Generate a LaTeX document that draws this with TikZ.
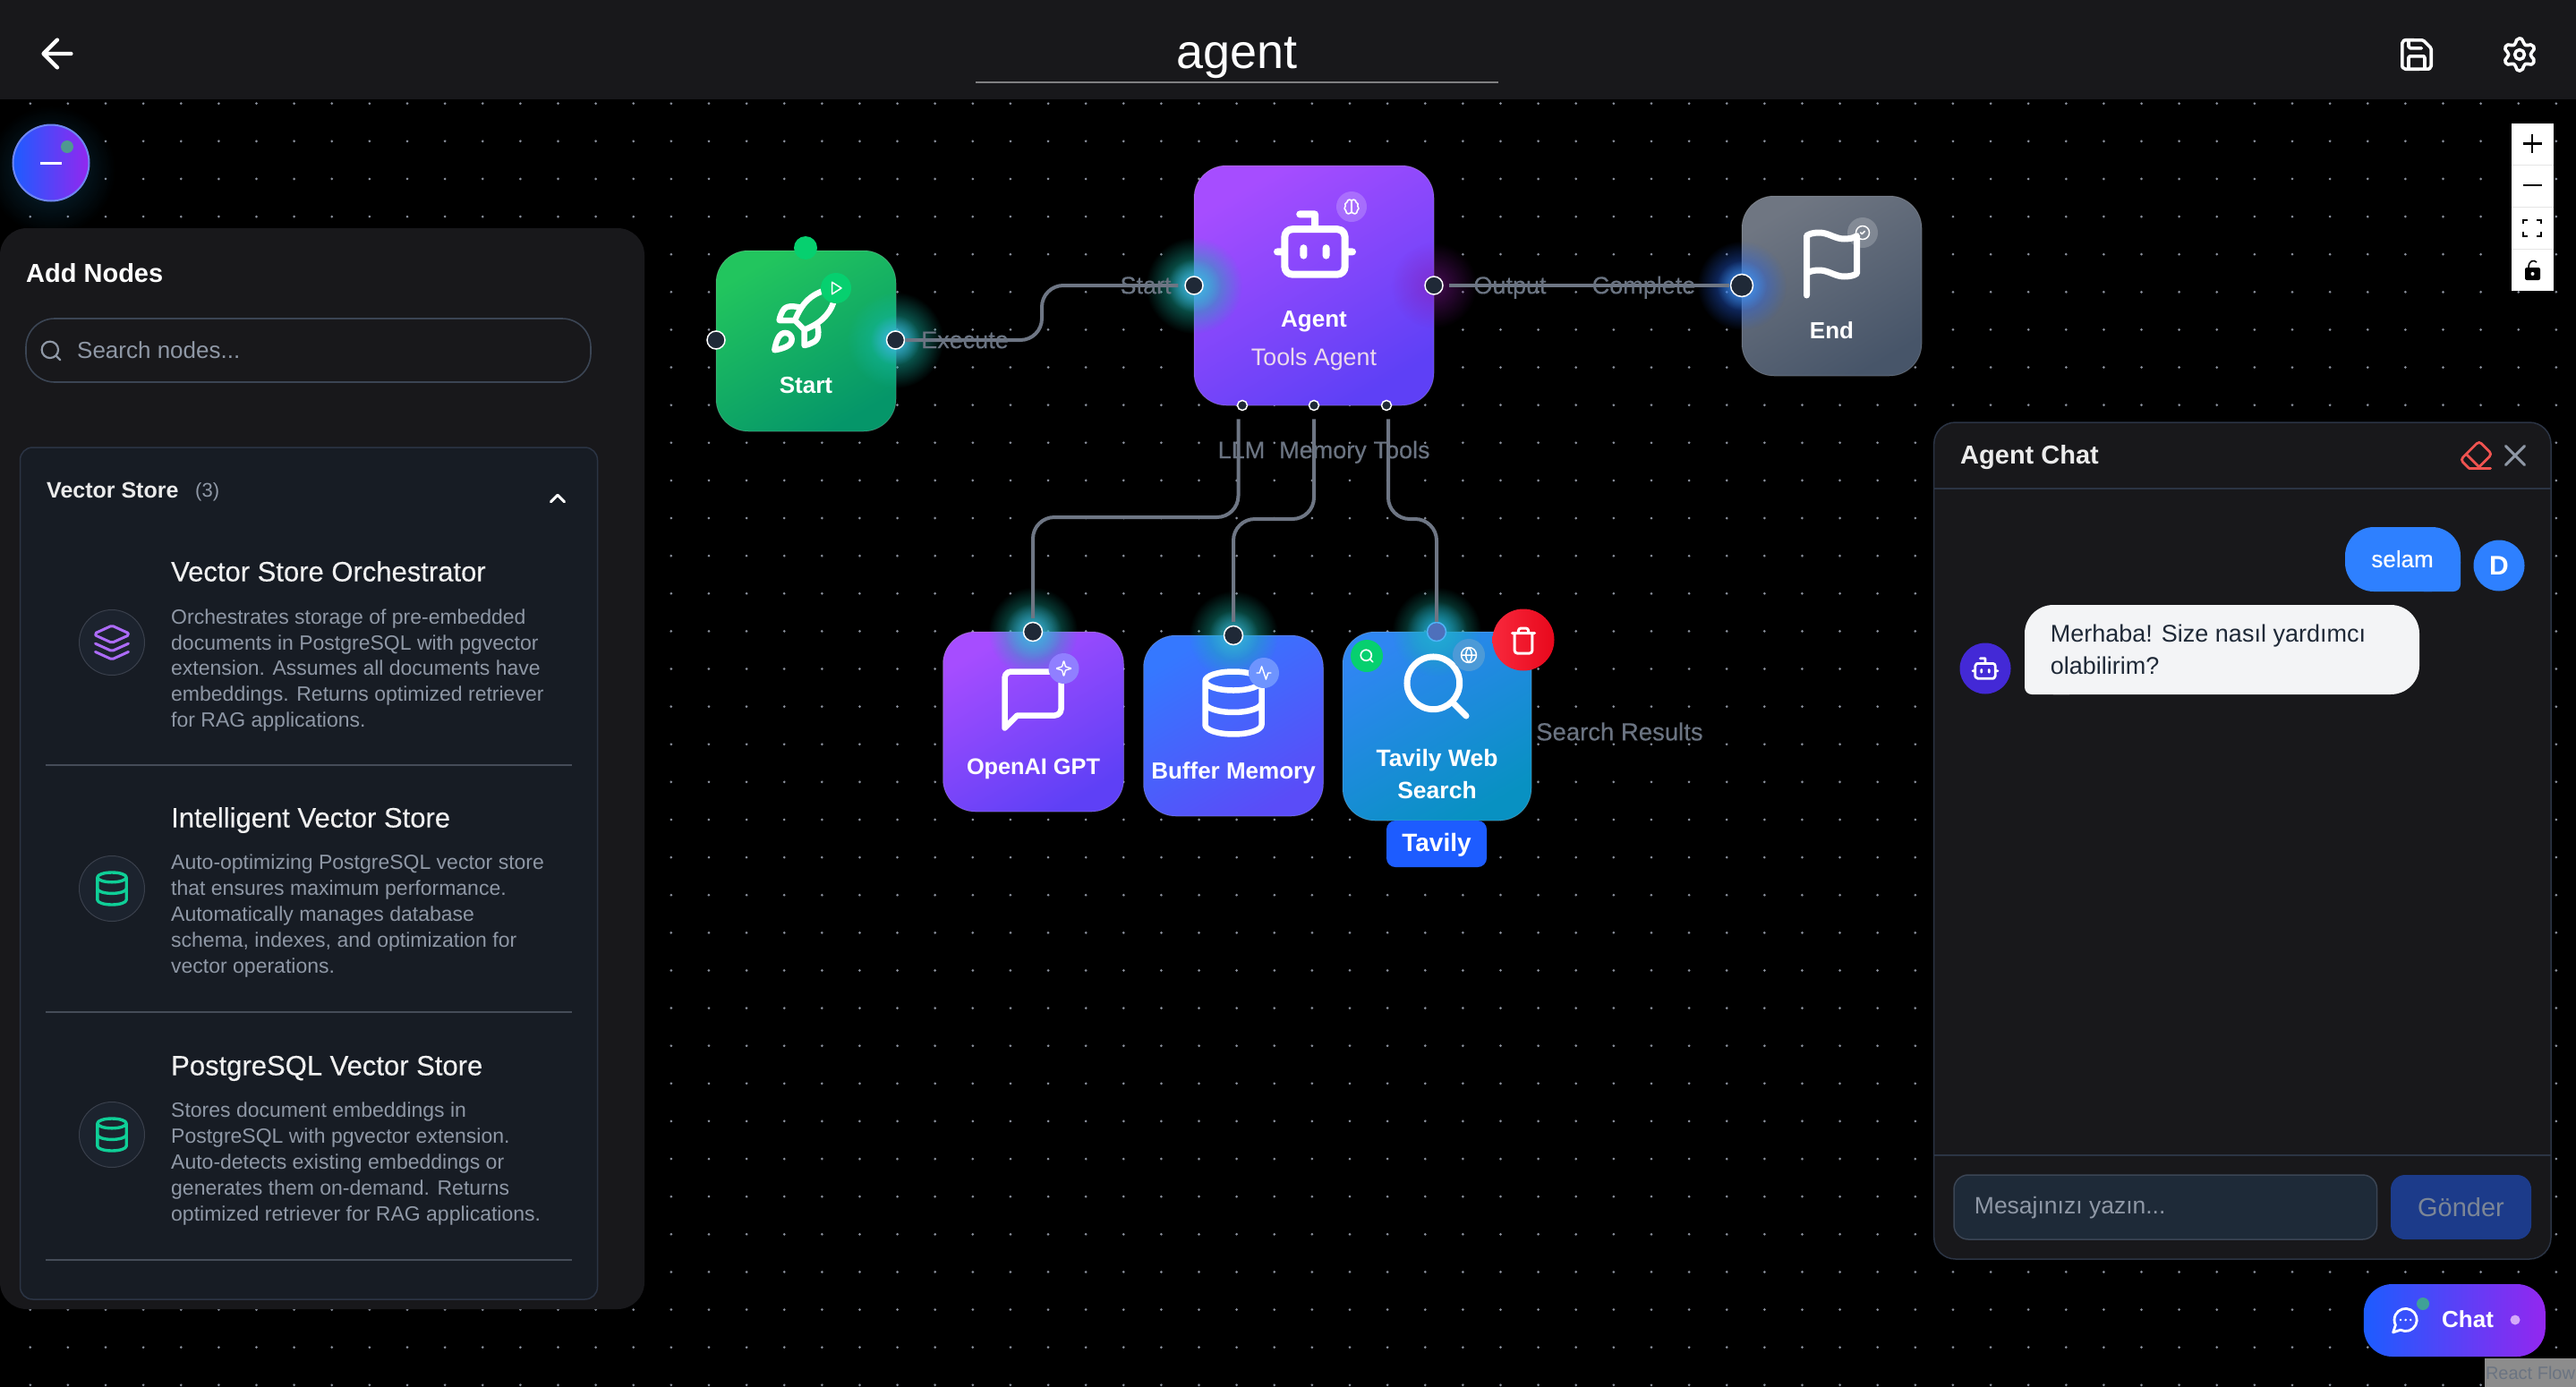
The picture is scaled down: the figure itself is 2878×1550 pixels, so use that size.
\documentclass[tikz,border=0pt]{standalone}
\usepackage{fontspec}
\setmainfont{Liberation Sans}
\newfontfamily\medfont[FakeBold=0.3]{Liberation Sans}
\usetikzlibrary{svg.path,fadings,shapes.misc}
\newcommand\fsz[1]{\fontsize{#1}{#1}\selectfont}
\tikzfading[name=glowf, inner color=transparent!0, outer color=transparent!100]
\definecolor{bar}{HTML}{18181B}
\definecolor{dotc}{HTML}{8A909C}
\definecolor{edgec}{HTML}{6E7684}
\definecolor{labc}{HTML}{6B7482}
\definecolor{handc}{HTML}{1F2937}
\definecolor{muted}{HTML}{8F98A6}
\definecolor{cardc}{HTML}{171C24}
\definecolor{cardb}{HTML}{2B3444}
\definecolor{itemsep}{HTML}{454C58}
\definecolor{wellf}{HTML}{1C232E}
\definecolor{welld}{HTML}{3A404C}
\definecolor{userb}{HTML}{2E80FF}
\definecolor{purpA}{HTML}{A64DFF}
\definecolor{purpB}{HTML}{5E40F6}
\definecolor{grnA}{HTML}{22C55E}
\definecolor{grnB}{HTML}{059669}
\definecolor{greyA}{HTML}{6F7682}
\definecolor{greyB}{HTML}{475569}
\definecolor{bluA}{HTML}{3578FF}
\definecolor{bluB}{HTML}{5A4CF8}
\definecolor{tavA}{HTML}{2F86F2}
\definecolor{tavB}{HTML}{0891C2}
\definecolor{gradL}{HTML}{1D5CFF}
\definecolor{gradR}{HTML}{9327EF}
\definecolor{mint}{HTML}{06D06F}
\definecolor{glowT}{HTML}{14B8A6}
\definecolor{glowC}{HTML}{4FB4F8}
\definecolor{glowB}{HTML}{2563EB}
\definecolor{bubble}{HTML}{F3F4F6}
\definecolor{inpf}{HTML}{1E2A38}
\definecolor{inpd}{HTML}{3B4554}
\definecolor{sendf}{HTML}{1C3B8A}
\definecolor{sendt}{HTML}{7C8696}
\definecolor{botav}{HTML}{4329D6}
\definecolor{redA}{HTML}{F8283C}
\definecolor{redB}{HTML}{E8081C}
\definecolor{tbadgec}{HTML}{1D5CFF}
\definecolor{erasec}{HTML}{EF5350}
\definecolor{layerc}{HTML}{AD6BFA}
\definecolor{dbc}{HTML}{0FCF97}
\tikzset{
  x=1pt,y=-1pt,
  txt/.style={font=\fsz{#1},inner sep=0pt,text height=0.85*#1 pt,text depth=0.17*#1 pt},
  bt/.style={txt={#1},font=\fsz{#1}\bfseries},
  mt/.style={txt={#1},font=\fsz{#1}\medfont},
  nodelab/.style={bt=26,text=white},
  edgelab/.style={mt=27,text=labc},
  edge/.style={draw=edgec,line width=4pt,rounded corners=24pt},
  flowbox/.style={rectangle,rounded corners=36pt,inner sep=0pt,draw=white,draw opacity=.18,line width=1pt},
  hand/.style={circle,inner sep=0pt,minimum size=#1 pt,fill=handc,draw=white,line width=1.5pt},
  badge/.style={circle,inner sep=0pt,minimum size=#1 pt},
  icon/.style={line cap=round,line join=round,fill=none},
  sep/.style={draw=#1,line width=1.5pt},
  descr/.style={inner sep=0pt,anchor=north west,align=left,text=muted,font=\fontsize{23}{28.8}\selectfont},
  itemtitle/.style={mt=31,anchor=west,text=white!94!black},
  iconwell/.style={circle,inner sep=0pt,minimum size=73pt,fill=wellf,draw=welld,line width=1pt},
}
\newcommand\lucide[6]{\begin{scope}[shift={(#1,#2)},xscale=#3,yscale=-#3,shift={(-12pt,-12pt)}]\draw[icon,line width=#4 pt,draw=#5] #6;\end{scope}}
\newcommand\glow[5]{\fill[#4,opacity=#5,path fading=glowf] (#1,#2) circle[radius=#3];}
\def\icbot{svg {M 12 8 V 4 H 8} svg {M 6 8 H 18 A 2 2 0 0 1 20 10 V 18 A 2 2 0 0 1 18 20 H 6 A 2 2 0 0 1 4 18 V 10 A 2 2 0 0 1 6 8 Z} svg {M 2 14 H 4} svg {M 20 14 H 22} svg {M 15 13 V 15} svg {M 9 13 V 15}}
\def\icdb{(12pt,5pt) ellipse[x radius=9pt,y radius=3pt] svg {M 3 5 V 19 A 9 3 0 0 0 21 19 V 5} svg {M 3 12 A 9 3 0 0 0 21 12}}
\def\icsearch{(11pt,11pt) circle[radius=8pt] svg {M 21 21 L 16.7 16.7}}
\begin{document}
\begin{tikzpicture}
\useasboundingbox (0,0) rectangle (2878,1550);
\fill[black] (0,0) rectangle (2878,1550);
% dot grid
\fill[dotc] \foreach \i in {0,...,67} {\foreach \j in {0,...,34} {({33.8+42.12*\i},{115.7+42.12*\j}) circle[radius=1.5]}};
% top bar
\fill[bar] (0,0) rectangle (2878,111);
\node[txt=54,text=white] (title) at (1382,58) {agent};
\draw[draw=white!45!bar,line width=2pt] (1090,92) -- (1674,92);
\lucide{64}{60}{2.2}{4.4}{white}{svg {M 12 19 L 5 12 L 12 5} svg {M 19 12 H 5}}
\lucide{2700}{61}{1.8}{3.6}{white}{svg {M 15.2 3 A 2 2 0 0 1 16.6 3.6 L 20.4 7.4 A 2 2 0 0 1 21 8.8 V 19 A 2 2 0 0 1 19 21 H 5 A 2 2 0 0 1 3 19 V 5 A 2 2 0 0 1 5 3 Z} svg {M 17 21 V 14 A 1 1 0 0 0 16 13 H 8 A 1 1 0 0 0 7 14 V 21} svg {M 7 3 V 7 A 1 1 0 0 0 8 8 H 15}}
\lucide{2815}{61}{1.8}{3.6}{white}{svg {M 12.22 2 h -0.44 a 2 2 0 0 0 -2 2 v 0.18 a 2 2 0 0 1 -1 1.73 l -0.43 0.25 a 2 2 0 0 1 -2 0 l -0.15 -0.08 a 2 2 0 0 0 -2.73 0.73 l -0.22 0.38 a 2 2 0 0 0 0.73 2.73 l 0.15 0.1 a 2 2 0 0 1 1 1.72 v 0.51 a 2 2 0 0 1 -1 1.74 l -0.15 0.09 a 2 2 0 0 0 -0.73 2.73 l 0.22 0.38 a 2 2 0 0 0 2.73 0.73 l 0.15 -0.08 a 2 2 0 0 1 2 0 l 0.43 0.25 a 2 2 0 0 1 1 1.73 V 20 a 2 2 0 0 0 2 2 h 0.44 a 2 2 0 0 0 2 -2 v -0.18 a 2 2 0 0 1 1 -1.73 l 0.43 -0.25 a 2 2 0 0 1 2 0 l 0.15 0.08 a 2 2 0 0 0 2.73 -0.73 l 0.22 -0.39 a 2 2 0 0 0 -0.73 -2.73 l -0.15 -0.08 a 2 2 0 0 1 -1 -1.74 v -0.5 a 2 2 0 0 1 1 -1.74 l 0.15 -0.09 a 2 2 0 0 0 0.73 -2.73 l -0.22 -0.38 a 2 2 0 0 0 -2.73 -0.73 l -0.15 0.08 a 2 2 0 0 1 -2 0 l -0.43 -0.25 a 2 2 0 0 1 -1 -1.73 V 4 a 2 2 0 0 0 -2 -2 z} (12pt,12pt) circle[radius=3pt]}
% zoom controls
\fill[white] (2806,138) rectangle (2853,325);
\foreach \yy in {184,231,278} {\draw[draw=black!10,line width=1pt] (2806,\yy) -- (2853,\yy);}
\draw[line width=2.6pt] (2818.5,160.5) -- (2839.5,160.5) (2829,150) -- (2829,171);
\draw[line width=2.6pt] (2818.5,207) -- (2839.5,207);
\draw[line width=2pt] (2819,250) |- (2824,245.5) (2834,245.5) -| (2839,250) (2839,259) |- (2834,264) (2824,264) -| (2819,259);
\fill[black,rounded corners=2pt] (2821,299) rectangle (2838,313);
\fill[white] (2829.5,306) circle[radius=2];
\draw[line width=1.6pt] (2825,299) .. controls (2825,291) and (2831,290) .. (2834,293);
% toggle
\glow{57}{190}{72}{glowT!50!glowB}{.3}
\node[circle,inner sep=0pt,minimum size=85pt,left color=gradL,right color=gradR,draw=gradL!65!white!90!violet,line width=2pt] (toggle) at (57,182) {};
\fill[glowT!45!gray] (75,164) circle[radius=7];
\draw[white,line width=3pt] (45,182) -- (69,182);
% left panel
\fill[bar,rounded corners=30pt] (0,255) rectangle (720,1463);
\node[bt=29,text=white,anchor=west] (addn) at (29,306) {Add Nodes};
\node[rectangle,rounded corners=32pt,minimum width=631pt,minimum height=71pt,inner sep=0pt,draw=inpd,line width=1.6pt] (sbox) at (344.5,391.5) {};
\lucide{57}{392}{1.15}{2.2}{muted}{\icsearch}
\node[txt=26,text=muted,anchor=west] (stext) at (86,392) {Search nodes...};
\node[rectangle,rounded corners=14pt,minimum width=645pt,minimum height=952pt,inner sep=0pt,fill=cardc,draw=cardb,line width=1.5pt] (card) at (345,976) {};
\node[bt=25,text=white!92!black,anchor=west] (vs) at (52,548) {Vector Store};
\node[txt=22,text=muted,anchor=west] (vsn) at (218,548) {(3)};
\lucide{623}{557}{1.25}{3}{white}{svg {M 18 15 L 12 9 L 6 15}}
% item 1
\node[iconwell] (w1) at (125,718) {};
\lucide{125}{718}{1.85}{3}{layerc}{svg {M 12.83 2.18 a 2 2 0 0 0 -1.66 0 L 2.6 6.08 a 1 1 0 0 0 0 1.83 l 8.58 3.91 a 2 2 0 0 0 1.66 0 l 8.58 -3.9 a 1 1 0 0 0 0 -1.83 Z} svg {M 22 17.65 l -9.17 4.16 a 2 2 0 0 1 -1.66 0 L 2 17.65} svg {M 22 12.65 l -9.17 4.16 a 2 2 0 0 1 -1.66 0 L 2 12.65}}
\node[itemtitle] (t1) at (191,639) {Vector Store Orchestrator};
\node[descr] (d1) at (191,680.5) {Orchestrates storage of pre-embedded\\documents in PostgreSQL with pgvector\\extension. Assumes all documents have\\embeddings. Returns optimized retriever\\for RAG applications.};
\draw[sep=itemsep] (51,855) -- (639,855);
% item 2
\node[iconwell] (w2) at (125,993) {};
\lucide{125}{993}{1.8}{3.4}{dbc}{\icdb}
\node[itemtitle] (t2) at (191,914) {Intelligent Vector Store};
\node[descr] (d2) at (191,955) {Auto-optimizing PostgreSQL vector store\\that ensures maximum performance.\\Automatically manages database\\schema, indexes, and optimization for\\vector operations.};
\draw[sep=itemsep] (51,1131) -- (639,1131);
% item 3
\node[iconwell] (w3) at (125,1268) {};
\lucide{125}{1268}{1.8}{3.4}{dbc}{\icdb}
\node[itemtitle] (t3) at (191,1191) {PostgreSQL Vector Store};
\node[descr] (d3) at (191,1232) {Stores document embeddings in\\PostgreSQL with pgvector extension.\\Auto-detects existing embeddings or\\generates them on-demand. Returns\\optimized retriever for RAG applications.};
\draw[sep=itemsep] (51,1408) -- (639,1408);
% flow nodes
\node[flowbox,minimum width=201pt,minimum height=202pt,top color=grnA,bottom color=grnB,shading angle=30] (start) at (900.5,381) {};
\fill[mint] (900,277) circle[radius=13];
\node[flowbox,minimum width=268pt,minimum height=268pt,top color=purpA,bottom color=purpB,shading angle=30] (agent) at (1468,319) {};
\node[flowbox,minimum width=201pt,minimum height=201pt,top color=greyA,bottom color=greyB,shading angle=30] (endn) at (2046.5,319.5) {};
\node[flowbox,minimum width=202pt,minimum height=201pt,top color=purpA,bottom color=purpB,shading angle=30] (openai) at (1154.5,806.5) {};
\node[flowbox,minimum width=201pt,minimum height=202pt,top color=bluA,bottom color=bluB,shading angle=30] (buffer) at (1378,811) {};
\node[flowbox,minimum width=211pt,minimum height=211pt,top color=tavA,bottom color=tavB,shading angle=30] (tavily) at (1605.5,811.5) {};
% glows
\glow{1000}{380}{54}{glowT}{.9}
\glow{1000}{380}{28}{glowC}{.75}
\glow{1334}{319}{54}{glowT}{.9}
\glow{1334}{319}{30}{glowC}{.85}
\glow{1602}{319}{48}{violet!70!purpA}{.5}
\glow{1946}{319}{50}{glowB}{.85}
\glow{1946}{319}{28}{glowC}{.7}
\glow{1154}{706}{50}{glowT}{.85}
\glow{1154}{706}{32}{glowC}{.75}
\glow{1378}{710}{50}{glowT}{.8}
\glow{1378}{710}{28}{glowC}{.6}
\glow{1605}{706}{50}{glowT}{.8}
\glow{1605}{706}{34}{cyan!60!glowC}{.8}
% handles
\node[hand=20] (hsl) at (800,380) {};
\node[hand=20] (hsr) at (1000.5,380) {};
\node[hand=20] (hai) at (1334,319) {};
\node[hand=20] (hao) at (1602,319) {};
\node[hand=11] (hl) at (1388,453) {};
\node[hand=11] (hm) at (1468,453) {};
\node[hand=11] (ht) at (1549,453) {};
\node[hand=25] (he) at (1946,319) {};
\node[hand=21] (ho) at (1154,706) {};
\node[hand=21] (hb) at (1378,710) {};
\node[hand=21,fill=glowB!55!gray,draw=glowC] (hv) at (1605,706) {};
% edges
\draw[edge] (hsr.east) -- (1164,380) -- (1164,319) -- ([xshift=-7pt]hai.west);
\draw[edge] ([xshift=6pt]hao.east) -- ([xshift=-1pt]he.west);
\draw[edge] ([xshift=-4.5pt,yshift=-9pt]hl.south) -- (1383.5,578) -- (1154,578) -- ([yshift=4pt]ho.north);
\draw[edge] ([yshift=-9pt]hm.south) -- (1468,580) -- (1378,580) -- ([yshift=4pt]hb.north);
\draw[edge] ([xshift=2pt,yshift=-9pt]ht.south) -- (1551,580) -- (1605,580) -- (hv.north);
% edge labels
\node[edgelab] (lexe) at (1078,380) {Execute};
\node[edgelab] (lsta) at (1280,319) {Start};
\node[edgelab] (lout) at (1687,319) {Output};
\node[edgelab] (lcom) at (1836.5,319) {Complete};
\node[edgelab] (lllm) at (1387,503) {LLM};
\node[edgelab] (lmem) at (1478,503) {Memory};
\node[edgelab] (ltoo) at (1566,503) {Tools};
\node[edgelab,mt=27.5,anchor=west] (lsr) at (1716,818) {Search Results};
% node icons
\lucide{898.6}{358}{3.5}{6.5}{white}{svg {M 4.5 16.5 c -1.5 1.26 -2 5 -2 5 s 3.74 -0.5 5 -2 c 0.71 -0.84 0.7 -2.13 -0.09 -2.91 a 2.18 2.18 0 0 0 -2.91 -0.09 z} svg {M 12 15 L 9 12 a 22 22 0 0 1 2 -3.95 A 12.88 12.88 0 0 1 22 2 c 0 2.72 -0.78 7.5 -6 11 a 22.35 22.35 0 0 1 -4 2 z} svg {M 9 12 H 4 s 0.55 -3.03 2 -4 c 1.62 -1.08 5 0 5 0} svg {M 12 15 v 5 s 3.03 -0.55 4 -2 c 1.08 -1.62 0 -5 0 -5}}
\node[badge=34,fill=mint] (bs) at (934,322) {};
\lucide{934}{322}{0.75}{1.5}{white}{svg {M 6 3 L 20 12 L 6 21 Z}}
\node[nodelab] (lstart) at (900.5,431) {Start};
\lucide{1469}{273}{4.2}{8}{white}{\icbot}
\node[badge=34,fill=white,fill opacity=.2] (ba) at (1510,231) {};
\lucide{1510}{231}{0.8}{1.6}{white}{svg {M 12 5 a 3 3 0 1 0 -5.997 0.125 a 4 4 0 0 0 -2.526 5.77 a 4 4 0 0 0 0.556 6.588 A 4 4 0 1 0 12 18 Z} svg {M 12 5 a 3 3 0 1 1 5.997 0.125 a 4 4 0 0 1 2.526 5.77 a 4 4 0 0 1 -0.556 6.588 A 4 4 0 1 1 12 18 Z} svg {M 12 5 V 18}}
\node[nodelab] (lagent) at (1468,357) {Agent};
\node[txt=26.8,text=white!85!violet] (lagent2) at (1468,399) {Tools Agent};
\lucide{2046.5}{295}{3.5}{7}{white}{svg {M 4 15 s 1 -1 4 -1 5 2 8 2 4 -1 4 -1 V 3 s -1 1 -4 1 -5 -2 -8 -2 -4 1 -4 1 z} svg {M 4 22 V 15}}
\node[badge=34,fill=white,fill opacity=.2] (be) at (2081,260) {};
\lucide{2081}{260}{0.75}{1.5}{white}{(12pt,12pt) circle[radius=10pt] svg {M 9 12 L 11 14 L 15 10}}
\node[nodelab] (lend) at (2046.5,370) {End};
\lucide{1154}{782}{3.5}{6.5}{white}{svg {M 21 15 a 2 2 0 0 1 -2 2 H 7 l -4 4 V 5 a 2 2 0 0 1 2 -2 h 14 a 2 2 0 0 1 2 2 z}}
\node[badge=34,fill=purpA!70!white!65!bluA] (bo) at (1188.5,747) {};
\lucide{1188.5}{747}{0.8}{1.4}{white}{svg {M 9.937 15.5 A 2 2 0 0 0 8.5 14.063 l -6.135 -1.582 a 0.5 0.5 0 0 1 0 -0.962 L 8.5 9.936 A 2 2 0 0 0 9.937 8.5 l 1.582 -6.135 a 0.5 0.5 0 0 1 0.963 0 L 14.063 8.5 A 2 2 0 0 0 15.5 9.937 l 6.135 1.581 a 0.5 0.5 0 0 1 0 0.964 L 15.5 14.063 a 2 2 0 0 0 -1.437 1.437 l -1.582 6.135 a 0.5 0.5 0 0 1 -0.963 0 z}}
\node[nodelab,bt=25.3] (lopen) at (1154.5,857) {OpenAI GPT};
\lucide{1378}{785.5}{3.5}{6.5}{white}{\icdb}
\node[badge=34,fill=bluA!70!white!85!bluB] (bb) at (1412,752) {};
\lucide{1412}{752}{0.8}{1.4}{white}{svg {M 22 12 H 18 L 15 21 L 9 3 L 6 12 H 2}}
\node[nodelab] (lbuf) at (1378,862) {Buffer Memory};
\lucide{1605}{767}{3.67}{7}{white}{\icsearch}
\node[badge=36,fill=mint] (bt1) at (1527,733) {};
\lucide{1527}{733}{0.75}{1.7}{white}{\icsearch}
\node[badge=36,fill=cyan!35!tavA!85!white] (bt2) at (1641,732) {};
\lucide{1641}{732}{0.85}{1.5}{white}{(12pt,12pt) circle[radius=10pt] svg {M 12 2 a 14.5 14.5 0 0 0 0 20 a 14.5 14.5 0 0 0 0 -20} svg {M 2 12 H 22}}
\node[nodelab,bt=26.5] (ltav1) at (1605.5,847) {Tavily Web};
\node[nodelab,bt=26.5] (ltav2) at (1605.5,883) {Search};
\node[badge=69,left color=redA,right color=redB] (del) at (1702,715) {};
\lucide{1702}{716}{1.4}{3}{white}{svg {M 3 6 H 21} svg {M 19 6 v 14 c 0 1 -1 2 -2 2 H 7 c -1 0 -2 -1 -2 -2 V 6} svg {M 8 6 V 4 c 0 -1 1 -2 2 -2 h 4 c 1 0 2 1 2 2 v 2}}
\node[rectangle,rounded corners=10pt,minimum width=112pt,minimum height=52pt,inner sep=0pt,fill=tbadgec] (tbadge) at (1605,943) {};
\node[nodelab,bt=28] (ltb) at (1605,942) {Tavily};
% chat panel
\fill[bar,draw=cardb,line width=1.5pt,rounded corners=24pt] (2160.7,472) rectangle (2850,1407);
\draw[sep=cardb] (2161,546) -- (2850,546);
\draw[sep=cardb] (2161,1291) -- (2850,1291);
\node[bt=29,text=white!92!black,anchor=west] (ctitle) at (2190,509) {Agent Chat};
\lucide{2766.5}{509}{1.6}{2.8}{erasec}{svg {M 7 21 L 2.7 16.7 c -1 -1 -1 -2.5 0 -3.4 l 9.6 -9.6 c 1 -1 2.5 -1 3.4 0 l 5.6 5.6 c 1 1 1 2.5 0 3.4 L 13 21} svg {M 22 21 H 7} svg {M 5 11 L 14 20}}
\lucide{2810}{509}{1.75}{3}{muted}{svg {M 18 6 L 6 18} svg {M 6 6 L 18 18}}
\node[rectangle,rounded corners=32pt,minimum width=129pt,minimum height=72pt,inner sep=0pt,fill=userb] (ub) at (2684.5,625) {};
\fill[userb,rounded corners=8pt] (2700,620) rectangle (2749,661);
\node[mt=26,text=white] (uselam) at (2684,625) {selam};
\node[badge=57,fill=userb] (uav) at (2792,632) {};
\node[bt=30,text=white] (ud) at (2792,632) {D};
\node[rectangle,rounded corners=32pt,minimum width=441pt,minimum height=100pt,inner sep=0pt,fill=bubble] (bb2) at (2482.5,726) {};
\fill[bubble,rounded corners=8pt] (2262,730) rectangle (2320,776);
\node[txt=27,text=handc,anchor=west] (bl1) at (2290.7,708) {Merhaba! Size nasıl yardımcı};
\node[txt=27,text=handc,anchor=west] (bl2) at (2290.7,744) {olabilirim?};
\node[badge=57,fill=botav] (bav) at (2218,747) {};
\lucide{2218}{747}{1.4}{2.8}{white}{\icbot}
\node[rectangle,rounded corners=16pt,minimum width=472.6pt,minimum height=72pt,inner sep=0pt,fill=inpf,draw=inpd,line width=1.5pt] (inp) at (2419.3,1349) {};
\node[txt=26.5,text=muted,anchor=west] (inpt) at (2205.7,1347) {Mesajınızı yazın...};
\node[rectangle,rounded corners=16pt,minimum width=157pt,minimum height=72pt,inner sep=0pt,fill=sendf] (sendb) at (2749.5,1349) {};
\node[txt=29,text=sendt] (sendt) at (2749.5,1350) {Gönder};
% chat button
\node[rectangle,rounded corners=32pt,minimum width=203pt,minimum height=81pt,inner sep=0pt,left color=gradL,right color=gradR] (chatb) at (2742.3,1475.5) {};
\fill[glowT!60!gray] (2707,1457) circle[radius=7];
\lucide{2687.6}{1475}{1.4}{2.8}{white}{svg {M 7.9 20 A 9 9 0 1 0 4 16.1 L 2 22 Z} svg {M 8 12 H 8.01} svg {M 12 12 H 12.01} svg {M 16 12 H 16.01}}
\node[bt=26,text=white] (chatt) at (2757,1475) {Chat};
\fill[gradR!40!white] (2810,1475) circle[radius=5.5];
% attribution
\fill[white!55!black] (2776,1518) rectangle (2878,1550);
\node[txt=20,text=labc] (rf) at (2827,1535) {React Flow};
\end{tikzpicture}
\end{document}
